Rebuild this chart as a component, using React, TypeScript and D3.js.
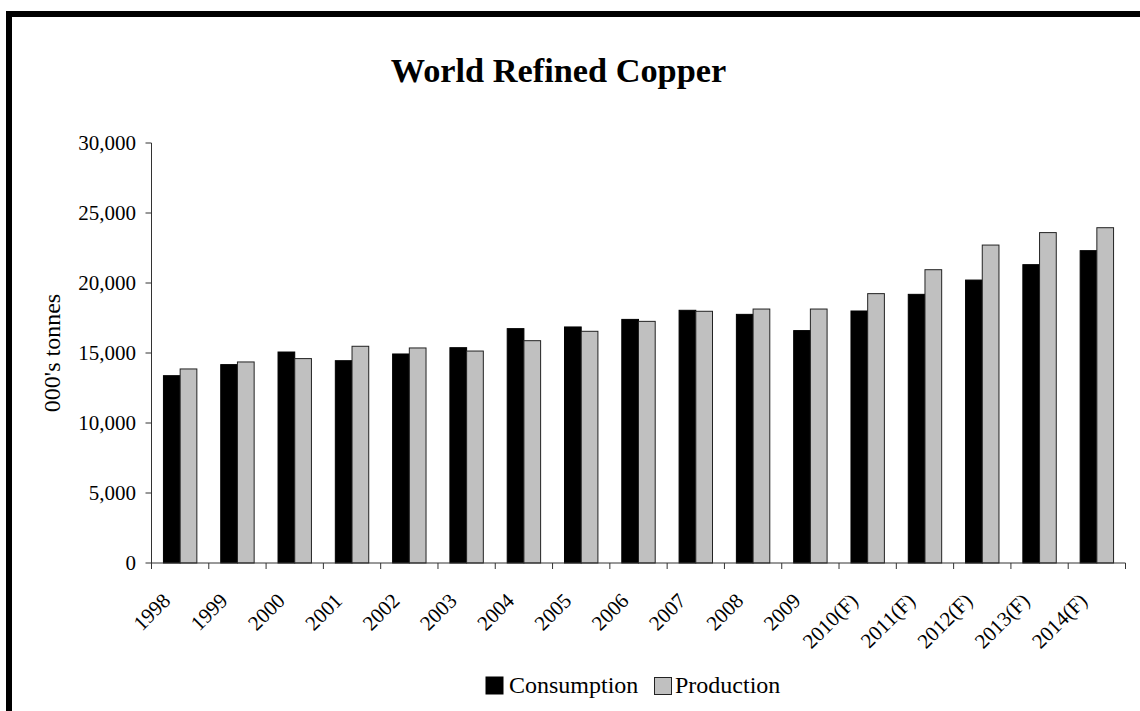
import React from "react";
import * as d3 from "d3";

const categories = ["1998", "1999", "2000", "2001", "2002", "2003", "2004", "2005", "2006", "2007", "2008", "2009", "2010(F)", "2011(F)", "2012(F)", "2013(F)", "2014(F)"];
const consumption = [13380, 14170, 15070, 14450, 14930, 15380, 16740, 16860, 17400, 18050, 17760, 16600, 18000, 19190, 20210, 21310, 22310];
const production = [13860, 14360, 14600, 15480, 15360, 15140, 15880, 16550, 17260, 17980, 18140, 18140, 19240, 20950, 22710, 23600, 23950];
const seriesNames = ["Consumption", "Production"];
const seriesColors = ["#000000", "#c0c0c0"];
const yTicks = [0, 5000, 10000, 15000, 20000, 25000, 30000];
const title = "World Refined Copper";
const yTitle = "000's tonnes";

export default function App() {
  const W = 1140, H = 711;
  const left = 151.5, right = 1125.5, top = 143, bottom = 563;
  const x = d3.scaleBand<string>().domain(categories).range([left, right]).padding(0);
  const x1 = d3.scaleBand<string>().domain(seriesNames).range([0, x.bandwidth()]).paddingInner(0).paddingOuter(0.715);
  const y = d3.scaleLinear().domain([0, 30000]).range([bottom, top]);
  const fmt = d3.format(",");
  const serif = "'Liberation Serif', 'Times New Roman', serif";
  const data = [consumption, production];

  return (
    <svg width={W} height={H} style={{ position: "absolute", left: 0, top: 0, background: "#fff" }} fontFamily={serif}>
      <rect x={0} y={0} width={W} height={H} fill="#fff" />
      <rect x={9} y={14} width={1300} height={900} fill="none" stroke="#000" strokeWidth={6} />
      <text x={558.5} y={82} textAnchor="middle" fontSize={34.3} fontWeight="bold">{title}</text>
      {/* bars */}
      {categories.map((c, i) => (
        <g key={c}>
          {seriesNames.map((s, j) => {
            const v = data[j][i];
            const bx = (x(c) as number) + (x1(s) as number);
            return (
              <rect key={s} x={bx} y={y(v)} width={x1.bandwidth()} height={y(0) - y(v)}
                fill={seriesColors[j]} stroke={j === 0 ? "#000" : "#222"} strokeWidth={1} />
            );
          })}
        </g>
      ))}
      {/* y axis */}
      <line x1={left} x2={left} y1={top} y2={bottom} stroke="#333" strokeWidth={1} />
      {yTicks.map((t) => (
        <g key={t}>
          <line x1={left - 6} x2={left} y1={y(t)} y2={y(t)} stroke="#333" strokeWidth={1} />
          <text x={136} y={y(t)} dy="0.35em" textAnchor="end" fontSize={21}>{fmt(t)}</text>
        </g>
      ))}
      <text transform={`translate(60,353) rotate(-90)`} textAnchor="middle" fontSize={24}>{yTitle}</text>
      {/* x axis */}
      <line x1={left} x2={right} y1={bottom} y2={bottom} stroke="#333" strokeWidth={1} />
      {[...categories.map((c) => x(c) as number), right].map((tx, i) => (
        <line key={i} x1={tx} x2={tx} y1={bottom} y2={bottom + 6} stroke="#333" strokeWidth={1} />
      ))}
      {categories.map((c) => {
        const cx = (x(c) as number) + x.bandwidth() / 2 - 8.5;
        return (
          <text key={c} transform={`translate(${cx},602) rotate(-45)`} textAnchor="end" fontSize={21}>{c}</text>
        );
      })}
      {/* legend */}
      <rect x={486} y={677} width={17} height={17} fill="#000" stroke="#000" strokeWidth={1} />
      <text x={509} y={693} fontSize={24}>{seriesNames[0]}</text>
      <rect x={654.5} y={677.5} width={17} height={17} fill="#c0c0c0" stroke="#222" strokeWidth={1} />
      <text x={675} y={693} fontSize={24}>{seriesNames[1]}</text>
    </svg>
  );
}
